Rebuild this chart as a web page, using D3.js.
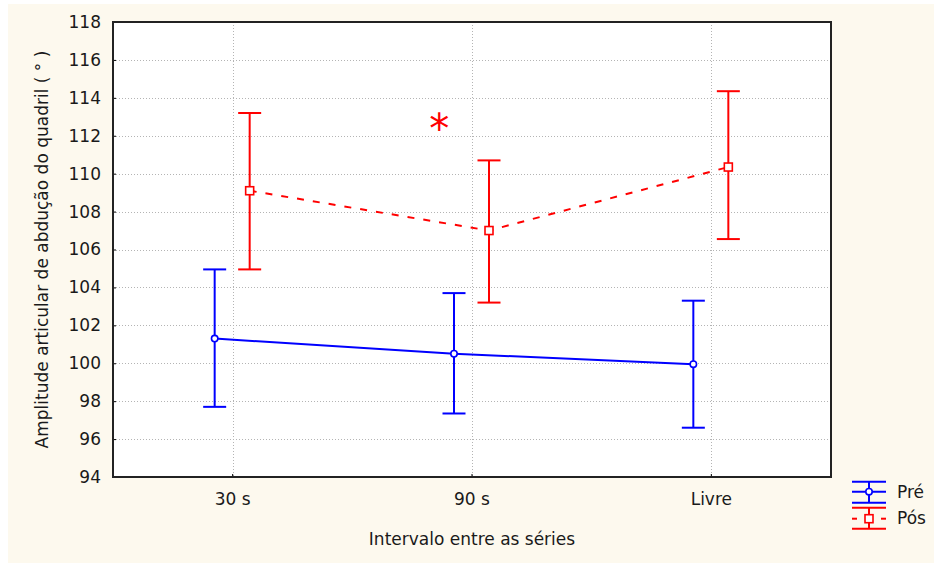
<!DOCTYPE html>
<html>
<head>
<meta charset="utf-8">
<script src="https://cdn.jsdelivr.net/npm/d3@7"></script>
<style>
	body { margin: 0; background: #fff; }
	svg { display: block; font-family: 'DejaVu Sans', sans-serif; }
</style>
</head>
<body>
<svg width="934" height="563"></svg>
<script>
// categories and values
const categories = ['30 s', '90 s', 'Livre'];
const preMean = [101.3, 100.5, 99.95];
const preLow = [97.7, 97.35, 96.6];
const preHigh = [104.95, 103.7, 103.3];
const posMean = [109.1, 107.0, 110.35];
const posLow = [104.95, 103.2, 106.55];
const posHigh = [113.2, 110.7, 114.35];
const yTicks = [94, 96, 98, 100, 102, 104, 106, 108, 110, 112, 114, 116, 118];
const seriesNames = ['Pré', 'Pós'];
const starValue = 112.7;

const svg = d3.select('svg');
const margin = { left: 113, right: 934 - 831, top: 22, bottom: 563 - 477 };
const width = +svg.attr('width');
const height = +svg.attr('height');

svg.append('rect')
	.attr('x', 8).attr('y', 4)
	.attr('width', width - 8).attr('height', height - 4)
	.attr('fill', '#fdf9ee');

const x = d3.scaleBand()
	.domain(categories)
	.range([margin.left, width - margin.right]);
const y = d3.scaleLinear()
	.domain([94, 118])
	.range([height - margin.bottom, margin.top]);
const cx = c => x(c) + x.bandwidth() / 2;

svg.append('rect')
	.attr('x', margin.left).attr('y', margin.top)
	.attr('width', x.range()[1] - margin.left)
	.attr('height', y(94) - margin.top)
	.attr('fill', '#fff');

// dotted grid
const grid = svg.append('g')
	.attr('stroke', '#b4b4b4')
	.attr('stroke-width', 1)
	.attr('stroke-dasharray', '1,2');
grid.selectAll('.hg')
	.data(yTicks.slice(1, -1))
	.enter()
	.append('line')
	.attr('x1', margin.left).attr('x2', x.range()[1])
	.attr('y1', d => Math.round(y(d)) + 0.5).attr('y2', d => Math.round(y(d)) + 0.5);
grid.selectAll('.vg')
	.data(categories)
	.enter()
	.append('line')
	.attr('x1', d => Math.round(cx(d)) + 0.5).attr('x2', d => Math.round(cx(d)) + 0.5)
	.attr('y1', margin.top).attr('y2', y(94));

// axes
const yAxis = svg.append('g')
	.attr('transform', `translate(${margin.left},0)`)
	.call(d3.axisLeft(y).tickValues(yTicks).tickSize(-3).tickPadding(12));
const xAxis = svg.append('g')
	.attr('transform', `translate(0,${y(94)})`)
	.call(d3.axisBottom(x).tickSize(-3));
[yAxis, xAxis].forEach(a => {
	a.select('.domain').remove();
	a.selectAll('line').attr('stroke', '#000');
	a.selectAll('text')
		.attr('font-family', 'DejaVu Sans, sans-serif')
		.attr('font-size', 17)
		.attr('fill', '#1a1a1a');
});
xAxis.selectAll('text').attr('y', 16);

svg.append('rect')
	.attr('x', margin.left).attr('y', margin.top)
	.attr('width', x.range()[1] - margin.left)
	.attr('height', y(94) - margin.top)
	.attr('fill', 'none')
	.attr('stroke', '#222')
	.attr('stroke-width', 2);

svg.append('text')
	.attr('x', cx(categories[1]))
	.attr('y', 545)
	.attr('text-anchor', 'middle')
	.attr('font-size', 17)
	.attr('fill', '#1a1a1a')
	.text('Intervalo entre as séries');

svg.append('text')
	.attr('transform', `translate(48,${(margin.top + y(94)) / 2}) rotate(-90)`)
	.attr('text-anchor', 'middle')
	.attr('font-size', 17)
	.attr('fill', '#1a1a1a')
	.text('Amplitude articular de abdução do quadril ( ° )');

// series
const series = [
	{ name: seriesNames[0], mean: preMean, low: preLow, high: preHigh, color: '#0000ff', offset: -18, dash: null, marker: 'circle' },
	{ name: seriesNames[1], mean: posMean, low: posLow, high: posHigh, color: '#ff0000', offset: 17, dash: '7,9', marker: 'square' },
];

const capHalf = 11.5;

series.forEach(s => {
	const pts = categories.map((c, i) => ({
		x: cx(c) + s.offset, m: s.mean[i], lo: s.low[i], hi: s.high[i],
	}));
	const g = svg.append('g').attr('stroke', s.color).attr('stroke-width', 2).attr('fill', 'none');

	g.append('path')
		.attr('d', d3.line().x(d => d.x).y(d => y(d.m))(pts))
		.attr('stroke-dasharray', s.dash);

	g.selectAll('.bar')
		.data(pts)
		.enter()
		.append('line')
		.attr('x1', d => d.x).attr('x2', d => d.x)
		.attr('y1', d => y(d.lo)).attr('y2', d => y(d.hi));
	g.selectAll('.capl')
		.data(pts)
		.enter()
		.append('line')
		.attr('x1', d => d.x - capHalf).attr('x2', d => d.x + capHalf)
		.attr('y1', d => y(d.lo)).attr('y2', d => y(d.lo));
	g.selectAll('.caph')
		.data(pts)
		.enter()
		.append('line')
		.attr('x1', d => d.x - capHalf).attr('x2', d => d.x + capHalf)
		.attr('y1', d => y(d.hi)).attr('y2', d => y(d.hi));

	if (s.marker == 'circle') {
		g.selectAll('.mk')
			.data(pts)
			.enter()
			.append('circle')
			.attr('cx', d => d.x).attr('cy', d => y(d.m))
			.attr('r', 3.2)
			.attr('fill', '#fff')
			.attr('stroke-width', 1.6);
	} else {
		g.selectAll('.mk')
			.data(pts)
			.enter()
			.append('rect')
			.attr('x', d => d.x - 4).attr('y', d => y(d.m) - 4)
			.attr('width', 8).attr('height', 8)
			.attr('fill', '#fff')
			.attr('stroke-width', 1.6);
	}
});

// significance mark
svg.append('text')
	.attr('x', (cx(categories[0]) + cx(categories[1])) / 2 + 87)
	.attr('y', y(starValue) + 21)
	.attr('text-anchor', 'middle')
	.attr('font-size', 40)
	.attr('fill', '#ff0000')
	.text('*');

// legend
const legend = svg.append('g');
series.forEach((s, i) => {
	const top = 481.7 + i * 26;
	const g = legend.append('g').attr('stroke', s.color).attr('stroke-width', 2);
	const lx = 852, rx = 886, mx = 869;
	g.append('line').attr('x1', lx).attr('x2', rx).attr('y1', top).attr('y2', top);
	g.append('line').attr('x1', lx).attr('x2', rx).attr('y1', top + 21).attr('y2', top + 21);
	g.append('line').attr('x1', mx).attr('x2', mx).attr('y1', top).attr('y2', top + 21);
	if (s.dash) {
		g.append('line').attr('x1', lx).attr('x2', lx + 5).attr('y1', top + 11).attr('y2', top + 11);
		g.append('line').attr('x1', rx - 5).attr('x2', rx).attr('y1', top + 11).attr('y2', top + 11);
		g.append('rect').attr('x', mx - 4).attr('y', top + 7).attr('width', 8).attr('height', 8)
			.attr('fill', '#fff').attr('stroke-width', 1.6);
	} else {
		g.append('line').attr('x1', lx).attr('x2', rx).attr('y1', top + 10).attr('y2', top + 10);
		g.append('circle').attr('cx', mx).attr('cy', top + 10).attr('r', 3.2)
			.attr('fill', '#fff').attr('stroke-width', 1.6);
	}
	legend.append('text')
		.attr('x', 897)
		.attr('y', top + 16.5)
		.attr('font-size', 17)
		.attr('fill', '#1a1a1a')
		.text(s.name);
});
</script>
</body>
</html>
